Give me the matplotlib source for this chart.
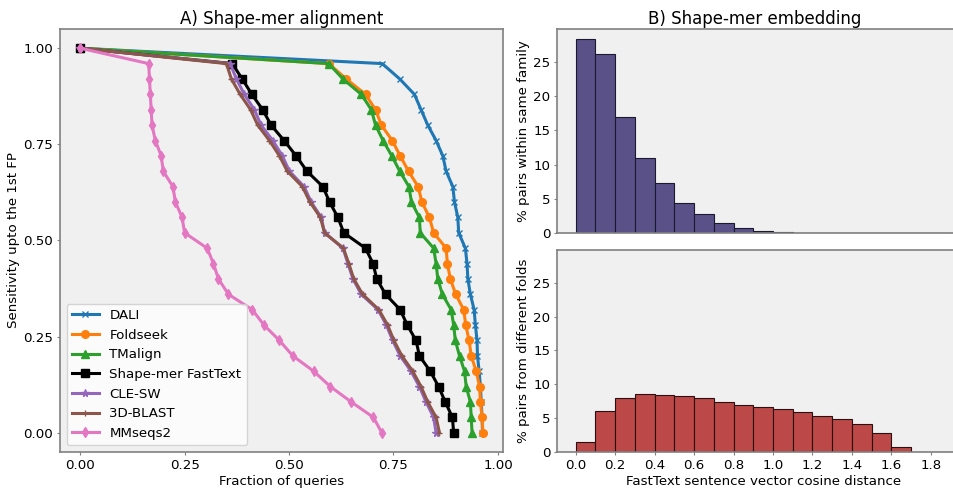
import numpy as np
import matplotlib.pyplot as plt

# ---- A) alignment benchmark: fraction of queries per sensitivity level ----
sensitivity = [1.00, 0.96, 0.92, 0.88, 0.84, 0.80, 0.76, 0.72, 0.68, 0.64, 0.60, 0.56, 0.52,
               0.48, 0.44, 0.40, 0.36, 0.32, 0.28, 0.24, 0.20, 0.16, 0.12, 0.08, 0.04, 0.00]

dali = [0.0, 0.723, 0.765, 0.800, 0.816, 0.832, 0.852, 0.868, 0.876, 0.892, 0.896, 0.904, 0.906,
        0.922, 0.926, 0.928, 0.934, 0.943, 0.946, 0.950, 0.951, 0.955, 0.958, 0.960, 0.962, 0.963]
foldseek = [0.0, 0.595, 0.637, 0.683, 0.707, 0.721, 0.747, 0.766, 0.786, 0.809, 0.818, 0.836, 0.846,
            0.876, 0.879, 0.886, 0.899, 0.918, 0.923, 0.931, 0.936, 0.948, 0.956, 0.958, 0.962, 0.964]
tmalign = [0.0, 0.595, 0.629, 0.673, 0.697, 0.707, 0.725, 0.746, 0.765, 0.787, 0.793, 0.812, 0.814,
           0.846, 0.852, 0.856, 0.867, 0.888, 0.894, 0.898, 0.908, 0.920, 0.924, 0.934, 0.936, 0.938]
shapemer = [0.0, 0.364, 0.388, 0.411, 0.437, 0.457, 0.488, 0.517, 0.543, 0.581, 0.597, 0.617, 0.631,
            0.683, 0.701, 0.710, 0.731, 0.766, 0.783, 0.804, 0.812, 0.838, 0.858, 0.874, 0.891, 0.894]
clesw = [0.0, 0.359, 0.374, 0.393, 0.417, 0.433, 0.461, 0.484, 0.501, 0.536, 0.553, 0.577, 0.585,
         0.629, 0.641, 0.653, 0.673, 0.713, 0.733, 0.748, 0.766, 0.792, 0.812, 0.828, 0.846, 0.852]
blast3d = [0.0, 0.350, 0.362, 0.383, 0.408, 0.425, 0.453, 0.477, 0.496, 0.532, 0.550, 0.575, 0.585,
           0.630, 0.643, 0.655, 0.676, 0.715, 0.736, 0.751, 0.770, 0.796, 0.816, 0.832, 0.852, 0.860]
mmseqs2 = [0.0, 0.164, 0.166, 0.168, 0.170, 0.172, 0.180, 0.194, 0.199, 0.222, 0.228, 0.244, 0.250,
           0.304, 0.319, 0.331, 0.355, 0.412, 0.440, 0.477, 0.509, 0.559, 0.599, 0.649, 0.702, 0.722]

# ---- B) embedding distances: % of pairs per 0.1 wide bin ----
bin_edges = [0.0, 0.1, 0.2, 0.3, 0.4, 0.5, 0.6, 0.7, 0.8, 0.9, 1.0,
             1.1, 1.2, 1.3, 1.4, 1.5, 1.6, 1.7, 1.8, 1.9]
same_family = [28.4, 26.2, 16.9, 10.9, 7.3, 4.4, 2.8, 1.5, 0.73, 0.3,
               0.15, 0.05, 0.02, 0.01, 0.005, 0.003, 0.002, 0.001, 0.001]
diff_folds = [1.5, 6.0, 8.0, 8.5, 8.4, 8.2, 7.9, 7.45, 7.0, 6.7,
              6.3, 5.85, 5.3, 4.8, 4.1, 2.85, 0.8, 0.02, 0.01]

BG = '#f0f0f0'
SPINE = '#808080'

plt.rcParams['font.size'] = 9.6
plt.rcParams['axes.labelpad'] = 2.5


def style_axes(ax):
    ax.set_facecolor(BG)
    for s in ax.spines.values():
        s.set_color(SPINE)
        s.set_linewidth(1.2)
    ax.tick_params(color=SPINE, length=2.5, pad=2.3, labelsize=9.6)


fig = plt.figure(figsize=(9.54, 4.88), dpi=100)

# left panel
ax = fig.add_axes([0.0629, 0.0738, 0.4644, 0.8668])
style_axes(ax)
methods = [
    (dali, 'DALI', 'C0', 'x', 5),
    (foldseek, 'Foldseek', 'C1', 'o', 5.5),
    (tmalign, 'TMalign', 'C2', '^', 5.5),
    (shapemer, 'Shape-mer FastText', 'black', 's', 5.5),
    (clesw, 'CLE-SW', 'C4', '*', 5.5),
    (blast3d, '3D-BLAST', 'C5', '+', 5),
    (mmseqs2, 'MMseqs2', 'C6', 'd', 5),
]
for xs, name, col, mk, ms in methods:
    ax.plot(xs, sensitivity, color=col, marker=mk, markersize=ms, linewidth=2.2,
            markeredgewidth=1.0, label=name)
ax.set_xticks([0.0, 0.25, 0.5, 0.75, 1.0])
ax.set_yticks([0.0, 0.25, 0.5, 0.75, 1.0])
ax.set_xlabel('Fraction of queries')
ax.set_ylabel('Sensitivity upto the 1st FP')
ax.set_title('A) Shape-mer alignment', fontsize=12, pad=3.5)
ax.legend(loc='lower left', fontsize=9.6)

# right panels, shared axes
ax1 = fig.add_axes([0.5839, 0.5225, 0.432, 0.418])
ax2 = fig.add_axes([0.5839, 0.0738, 0.432, 0.4139], sharex=ax1, sharey=ax1)
for a in (ax1, ax2):
    style_axes(a)

ax1.hist(bin_edges[:-1], bins=bin_edges, weights=same_family,
         facecolor='#5b5189', edgecolor='#1a1a2e', linewidth=0.8)
ax2.hist(bin_edges[:-1], bins=bin_edges, weights=diff_folds,
         facecolor='#bd4848', edgecolor='#2a1010', linewidth=0.8)

ax1.tick_params(labelbottom=False, bottom=False)
ax1.set_yticks([0, 5, 10, 15, 20, 25])
ax2.set_xticks(np.arange(0, 1.81, 0.2))
ax1.set_ylabel('% pairs within same family')
ax2.set_ylabel('% pairs from different folds')
ax2.set_xlabel('FastText sentence vector cosine distance')
ax1.set_title('B) Shape-mer embedding', fontsize=12, pad=3.5, x=0.48)

fig.savefig('out.png', dpi=100)
